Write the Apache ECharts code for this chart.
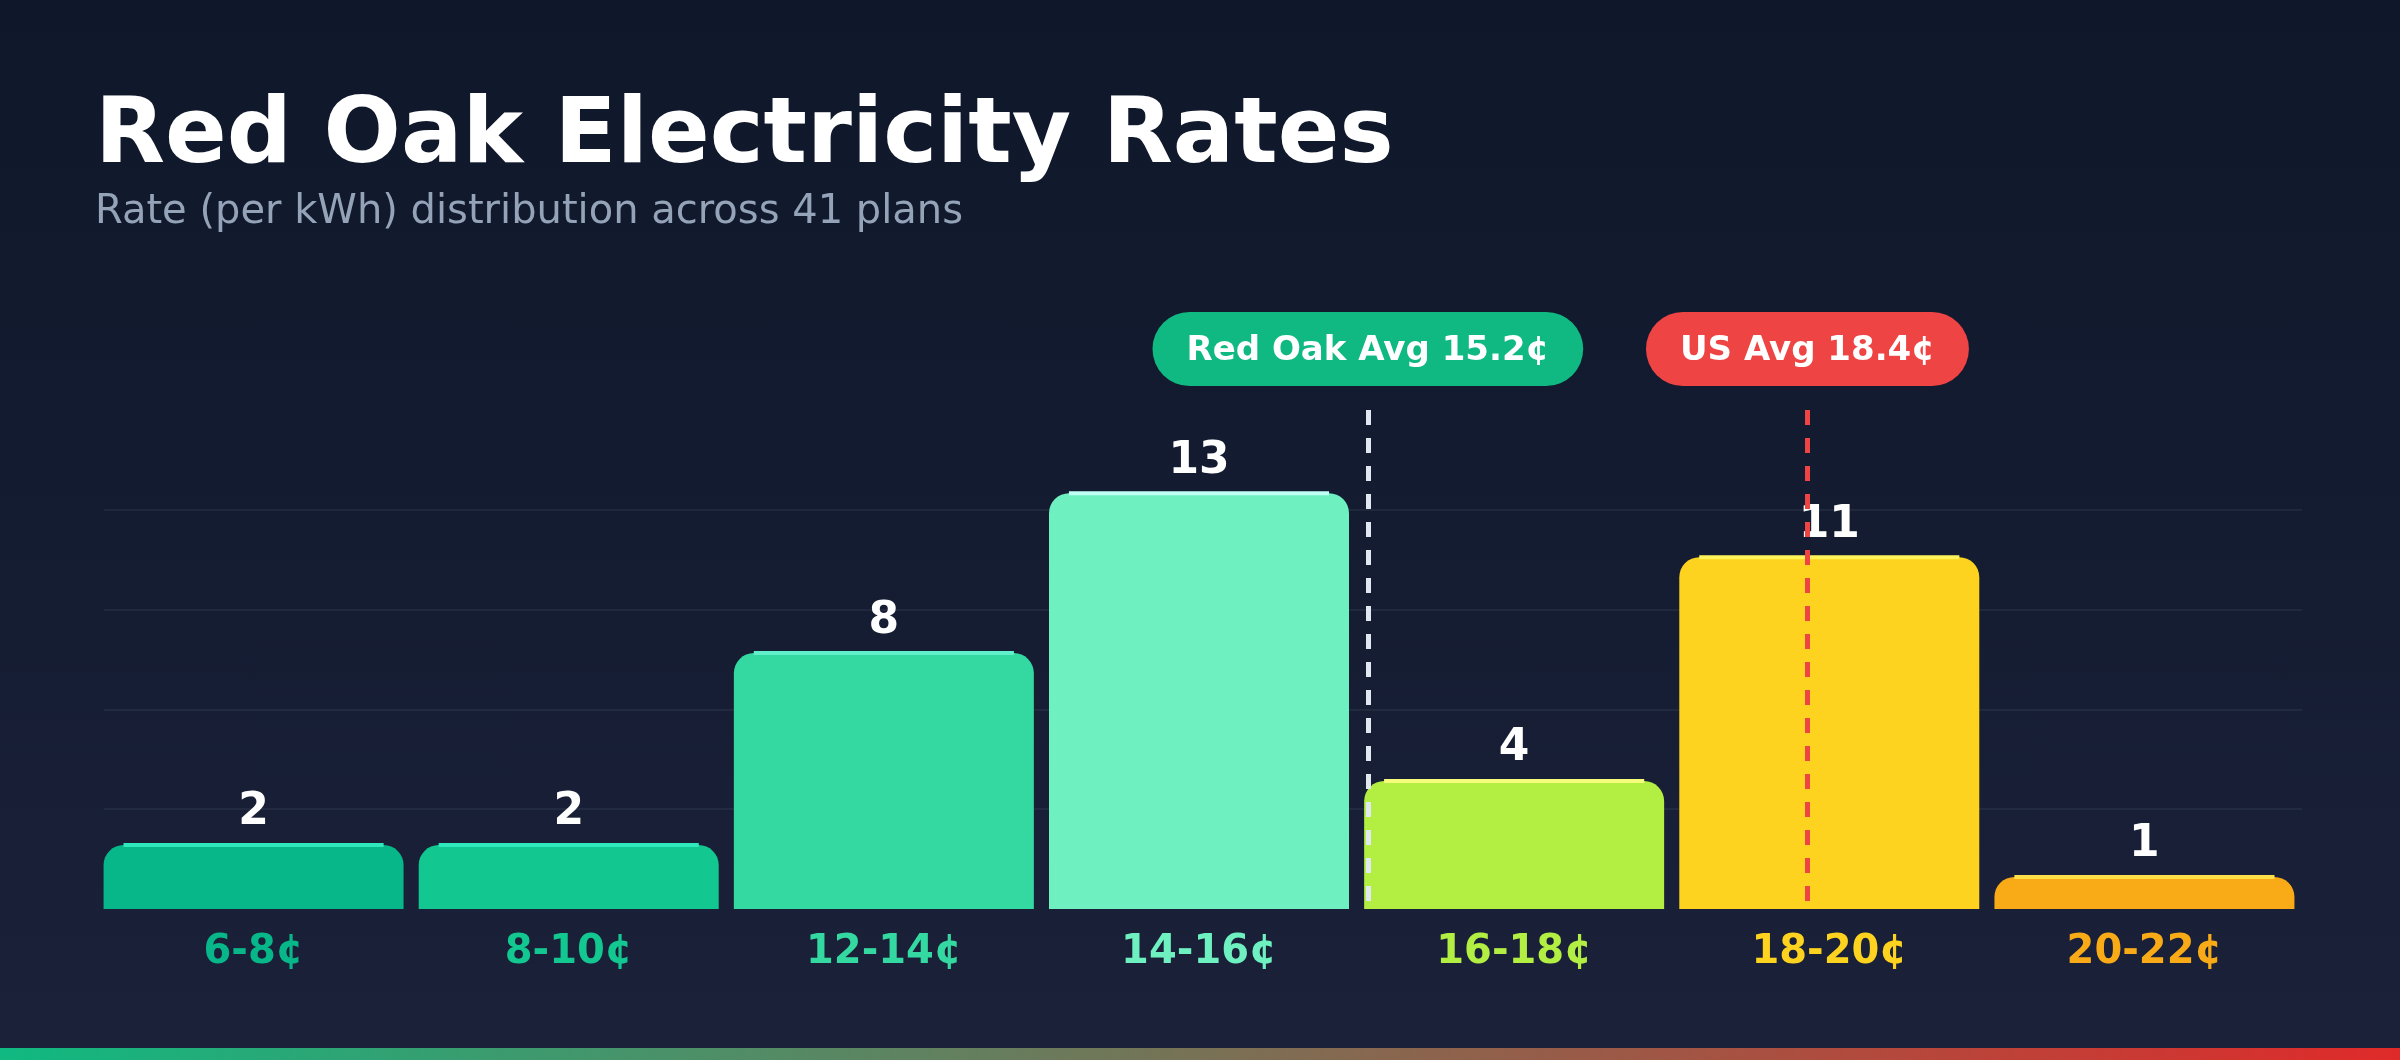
<!DOCTYPE html>
<html>
<head>
<meta charset="utf-8">
<title>Red Oak Electricity Rates</title>
<script src="https://cdn.jsdelivr.net/npm/echarts@6/dist/echarts.min.js"></script>
<style>
  html, body { margin: 0; padding: 0; }
  body { background: linear-gradient(180deg, #0f172a 0%, #1a2139 100%); }
  #chart { width: 2400px; height: 1060px; }
</style>
</head>
<body>
<div id="chart"></div>
<script>
// rate buckets and how many plans fall in each
const rateBuckets = ['6-8¢', '8-10¢', '12-14¢', '14-16¢', '16-18¢', '18-20¢', '20-22¢']
const planCounts = [2, 2, 8, 13, 4, 11, 1]

// reference averages (cents per kWh)
const redOakAvg = 15.2
const usAvg = 18.4
const rateMin = 6
const rateMax = 22

const barColors = ['#07b789', '#12c790', '#34d9a1', '#6ef0c0', '#b3ee43', '#fdd31f', '#f9aa17']
const topColors = ['#2fe8bb', '#2fe8bb', '#62f0cc', '#c0fff4', '#f5fc7c', '#fff35a', '#fde047']

const FONT = 'DejaVu Sans'
const Y_MAX = 15.6

const chart = echarts.init(document.getElementById('chart'), null, { renderer: 'canvas' })

const pillLabel = (text, bg) => ({
  show: true,
  position: 'start',
  distance: 24,
  formatter: text,
  backgroundColor: bg,
  color: '#ffffff',
  fontSize: 34,
  lineHeight: 34,
  fontWeight: 'bold',
  fontFamily: FONT,
  padding: [22, 34, 18, 34],
  borderRadius: 37
})

const option = {
  animation: false,
  backgroundColor: 'transparent',
  textStyle: { fontFamily: FONT },
  title: [
    {
      text: 'Red Oak Electricity Rates',
      left: 95,
      top: 93,
      padding: 0,
      textStyle: { fontSize: 91, lineHeight: 91, fontWeight: 'bold', color: '#ffffff', fontFamily: FONT }
    },
    {
      text: 'Rate (per kWh) distribution across 41 plans',
      left: 95,
      top: 193,
      padding: 0,
      textStyle: { fontSize: 40, lineHeight: 40, fontWeight: 'normal', color: '#94a3b8', fontFamily: FONT }
    }
  ],
  grid: [
    { left: 96, right: 98, top: 410, bottom: 151 },
    { left: 104, right: 98, top: 410, bottom: 151 }
  ],
  xAxis: [
    {
      type: 'category',
      gridIndex: 0,
      data: rateBuckets,
      axisLine: { show: false },
      axisTick: { show: false },
      axisLabel: {
        margin: 24,
        fontSize: 40,
        lineHeight: 40,
        fontWeight: 'bold',
        fontFamily: FONT,
        color: (value, index) => barColors[index]
      }
    },
    {
      type: 'value',
      gridIndex: 1,
      min: rateMin,
      max: rateMax,
      show: false
    }
  ],
  yAxis: [
    {
      type: 'value',
      gridIndex: 0,
      min: 0,
      max: Y_MAX,
      interval: 3.12,
      show: false,
      splitLine: { show: false }
    },
    {
      type: 'value',
      gridIndex: 1,
      min: 0,
      max: Y_MAX,
      interval: 3.12,
      axisLine: { show: false },
      axisTick: { show: false },
      axisLabel: { show: false },
      splitLine: {
        show: true,
        showMinLine: false,
        showMaxLine: false,
        lineStyle: { color: 'rgba(148,163,184,0.12)', width: 1.5 }
      }
    }
  ],
  series: [
    {
      name: 'Plans',
      type: 'bar',
      xAxisIndex: 0,
      yAxisIndex: 0,
      barWidth: 300,
      data: planCounts.map((v, i) => ({
        value: v,
        itemStyle: { color: barColors[i], borderRadius: [20, 20, 0, 0] }
      })),
      label: {
        show: true,
        position: 'top',
        distance: 10,
        color: '#ffffff',
        fontSize: 44,
        lineHeight: 44,
        fontWeight: 'bold',
        fontFamily: FONT
      },
      z: 2
    },
    {
      // thin light strip on the top of each bar
      name: 'Highlight',
      type: 'custom',
      xAxisIndex: 0,
      yAxisIndex: 0,
      data: planCounts.map((v, i) => [i, v]),
      renderItem: (params, api) => {
        const p = api.coord([api.value(0), api.value(1)])
        const half = api.size([1, 0])[0] * (300 / 315) / 2 - 20
        return {
          type: 'line',
          shape: { x1: p[0] - half, y1: p[1], x2: p[0] + half, y2: p[1] },
          style: { stroke: topColors[params.dataIndex], lineWidth: 4 }
        }
      },
      z: 3
    },
    {
      name: 'Averages',
      type: 'line',
      xAxisIndex: 1,
      yAxisIndex: 1,
      data: [],
      z: 5,
      markLine: {
        silent: true,
        symbol: ['none', 'none'],
        animation: false,
        data: [
          [
            {
              coord: [redOakAvg, Y_MAX],
              lineStyle: { color: '#e2e8f0', width: 5, type: [15, 13] },
              label: pillLabel('Red Oak Avg ' + redOakAvg + '¢', '#10b981')
            },
            { coord: [redOakAvg, 0] }
          ],
          [
            {
              coord: [usAvg, Y_MAX],
              lineStyle: { color: '#ef4444', width: 5, type: [15, 13] },
              label: pillLabel('US Avg ' + usAvg + '¢', '#ef4444')
            },
            { coord: [usAvg, 0] }
          ]
        ]
      }
    }
  ],
  graphic: [
    {
      type: 'rect',
      left: 0,
      top: 1048,
      shape: { width: 2400, height: 12 },
      style: {
        fill: new echarts.graphic.LinearGradient(0, 0, 1, 0, [
          { offset: 0, color: '#10b981' },
          { offset: 1, color: '#e02a2a' }
        ])
      },
      silent: true
    }
  ]
}

chart.setOption(option)
</script>
</body>
</html>
